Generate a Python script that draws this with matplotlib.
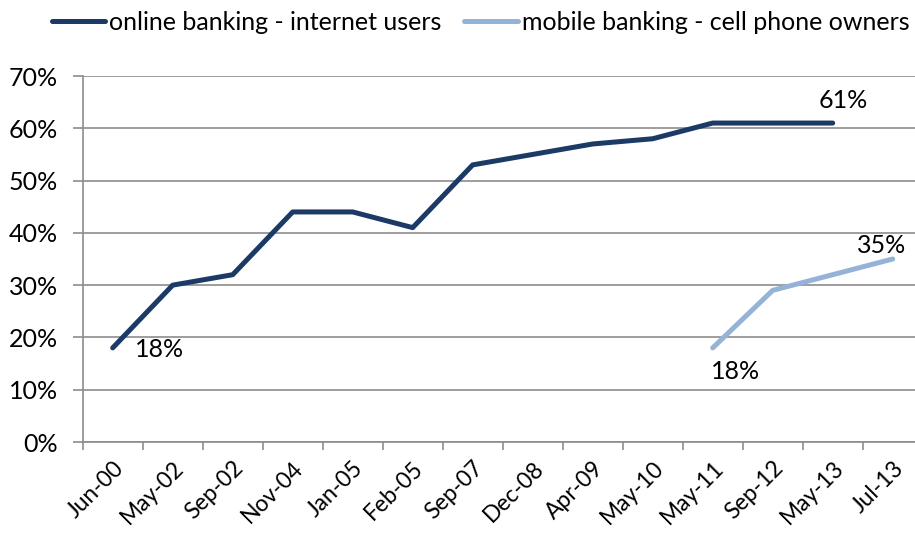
import matplotlib
matplotlib.use("Agg")
import matplotlib.pyplot as plt
import numpy as np
from matplotlib.ticker import FuncFormatter, FixedLocator

plt.rcParams['font.family'] = ['Lato', 'DejaVu Sans']

# categories and values (percent)
dates = ["Jun-00", "May-02", "Sep-02", "Nov-04", "Jan-05", "Feb-05", "Sep-07",
         "Dec-08", "Apr-09", "May-10", "May-11", "Sep-12", "May-13", "Jul-13"]
online = [18, 30, 32, 44, 44, 41, 53, 55, 57, 58, 61, 61, 61, np.nan]
mobile = [np.nan] * 10 + [18, 29, 32, 35]

dark = "#1B3A66"
light = "#95B3D7"
grid_col = "#8C8C8C"
fs = 18

fig = plt.figure(figsize=(9.15, 5.34), dpi=100)
ax = fig.add_axes([82.7 / 915, 1 - 442 / 534, 840 / 915, 366 / 534])

x = np.arange(len(dates))
ax.plot(x, online, color=dark, lw=3.6, solid_capstyle="round",
        label="online banking - internet users")
ax.plot(x, mobile, color=light, lw=3.6, solid_capstyle="round",
        label="mobile banking - cell phone owners")

ax.set_xlim(-0.5, len(dates) - 0.5)
ax.set_ylim(0, 70)
ax.set_yticks(range(0, 71, 10))
ax.yaxis.set_major_formatter(FuncFormatter(lambda v, p: f"{v:.0f}%"))
ax.grid(axis="y", color=grid_col, lw=1.2)
ax.set_axisbelow(True)

# category labels at centers, tick marks between categories
ax.set_xticks(x)
ax.set_xticklabels(dates, rotation=45, ha="right", rotation_mode="anchor")
ax.tick_params(axis="x", which="major", length=0, pad=11, labelsize=16.5)
ax.xaxis.set_minor_locator(FixedLocator(np.arange(-0.5, len(dates), 1)))
ax.tick_params(axis="x", which="minor", length=6, width=1.2, color=grid_col, direction="out")
ax.tick_params(axis="y", length=7, width=1.2, color=grid_col, labelsize=fs, pad=11)

for s in ["top", "right"]:
    ax.spines[s].set_visible(False)
for s in ["left", "bottom"]:
    ax.spines[s].set_color(grid_col)
    ax.spines[s].set_linewidth(1.2)

# data labels (offsets in points)
ax.annotate("18%", (0, online[0]), xytext=(16, -1.5), textcoords="offset points",
            fontsize=fs, ha="left", va="center")
ax.annotate("61%", (12, online[12]), xytext=(-10, 16), textcoords="offset points",
            fontsize=fs, ha="left", va="center")
ax.annotate("18%", (10, mobile[10]), xytext=(-1, -17), textcoords="offset points",
            fontsize=fs, ha="left", va="center")
ax.annotate("35%", (13, mobile[13]), xytext=(-8, 10), textcoords="offset points",
            fontsize=fs, ha="center", va="center")

fig.legend(loc="center", bbox_to_anchor=(0.525, 1 - 22 / 534), ncol=2, frameon=False,
           fontsize=fs, handlelength=2.15, handletextpad=0.15, columnspacing=0.9)

fig.savefig("out.png", dpi=100)
